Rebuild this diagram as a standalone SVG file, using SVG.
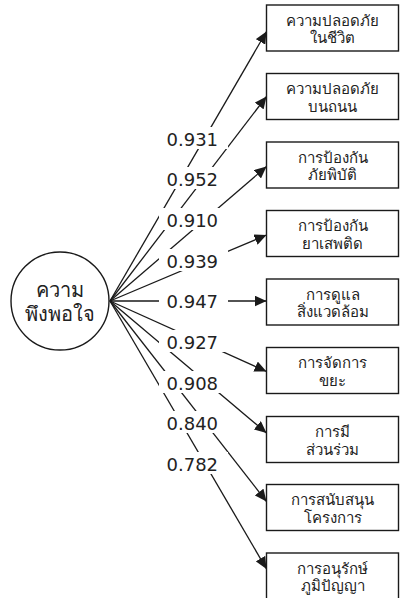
<svg xmlns="http://www.w3.org/2000/svg" width="401" height="598" viewBox="0 0 401 598">
<defs>
<marker id="ah" markerUnits="userSpaceOnUse" markerWidth="13" markerHeight="11" refX="12" refY="5.5" orient="auto">
<path d="M0,0 L12,5.5 L0,11 Z" fill="#1a1a1a"/>
</marker>
<style>
.box rect{fill:#fff;stroke:#1a1a1a;stroke-width:1.4}
.box text{font-family:"Noto Sans","DejaVu Sans",sans-serif;font-size:15px;fill:#222;text-anchor:middle}
.conn line{stroke:#1a1a1a;stroke-width:1.3;marker-end:url(#ah)}
.lbl rect{fill:#fff}
.lbl text{font-family:"DejaVu Sans","Noto Sans",sans-serif;font-size:18px;fill:#222}
.root text{font-family:"Noto Sans","DejaVu Sans",sans-serif;font-size:20px;fill:#222;text-anchor:middle}
</style>
</defs>
<rect width="401" height="598" fill="#fff"/>
<g id="connectors" class="conn">
<line x1="110" y1="301" x2="266.5" y2="31.5"/>
<line x1="110" y1="301" x2="266.5" y2="96.5"/>
<line x1="110" y1="301" x2="266.5" y2="166.5"/>
<line x1="110" y1="301" x2="266.5" y2="235"/>
<line x1="110" y1="301" x2="266.5" y2="301"/>
<line x1="110" y1="301" x2="266.5" y2="371.5"/>
<line x1="110" y1="301" x2="266.5" y2="433"/>
<line x1="110" y1="301" x2="266.5" y2="501.5"/>
<line x1="110" y1="301" x2="266.5" y2="569"/>
</g>
<g id="labels" class="lbl">
<rect x="159" y="127" width="69" height="22"/><text x="166.5" y="146">0.931</text>
<rect x="159" y="167" width="69" height="22"/><text x="166.5" y="186">0.952</text>
<rect x="159" y="208" width="69" height="22"/><text x="166.5" y="227">0.910</text>
<rect x="159" y="249" width="69" height="22"/><text x="166.5" y="268">0.939</text>
<rect x="159" y="289" width="69" height="22"/><text x="166.5" y="308">0.947</text>
<rect x="159" y="330" width="69" height="22"/><text x="166.5" y="349">0.927</text>
<rect x="159" y="371" width="69" height="22"/><text x="166.5" y="390">0.908</text>
<rect x="159" y="411" width="69" height="22"/><text x="166.5" y="430">0.840</text>
<rect x="159" y="452" width="69" height="22"/><text x="166.5" y="471">0.782</text>
</g>
<g id="root" class="root">
<circle cx="60" cy="301" r="49" fill="#fff" stroke="#1a1a1a" stroke-width="1.4"/>
<text x="60" y="297">ความ</text>
<text x="60" y="321">พึงพอใจ</text>
</g>
<g id="n1" class="box"><rect x="266.5" y="5" width="132" height="46"/><text x="332.5" y="25.5">ความปลอดภัย</text><text x="332.5" y="43">ในชีวิต</text></g>
<g id="n2" class="box"><rect x="266.5" y="73.5" width="132" height="46"/><text x="332.5" y="94">ความปลอดภัย</text><text x="332.5" y="111.5">บนถนน</text></g>
<g id="n3" class="box"><rect x="266.5" y="142" width="132" height="46"/><text x="332.5" y="162.5">การป้องกัน</text><text x="332.5" y="180">ภัยพิบัติ</text></g>
<g id="n4" class="box"><rect x="266.5" y="210.5" width="132" height="46"/><text x="332.5" y="231">การป้องกัน</text><text x="332.5" y="248.5">ยาเสพติด</text></g>
<g id="n5" class="box"><rect x="266.5" y="279" width="132" height="46"/><text x="332.5" y="299.5">การดูแล</text><text x="332.5" y="317">สิ่งแวดล้อม</text></g>
<g id="n6" class="box"><rect x="266.5" y="347.5" width="132" height="46"/><text x="332.5" y="368">การจัดการ</text><text x="332.5" y="385.5">ขยะ</text></g>
<g id="n7" class="box"><rect x="266.5" y="416.5" width="132" height="46"/><text x="332.5" y="437">การมี</text><text x="332.5" y="454.5">ส่วนร่วม</text></g>
<g id="n8" class="box"><rect x="266.5" y="484.5" width="132" height="46"/><text x="332.5" y="505">การสนับสนุน</text><text x="332.5" y="522.5">โครงการ</text></g>
<g id="n9" class="box"><rect x="266.5" y="553" width="132" height="46"/><text x="332.5" y="573.5">การอนุรักษ์</text><text x="332.5" y="591">ภูมิปัญญา</text></g>
</svg>
